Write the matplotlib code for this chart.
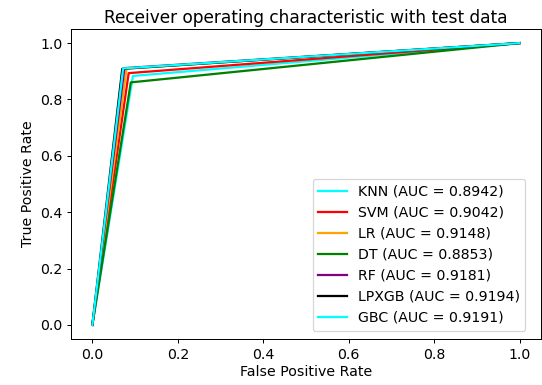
import matplotlib
matplotlib.use("Agg")
import matplotlib.pyplot as plt

# ROC points per classifier: (0,0) -> (fpr, tpr) -> (1,1)
models = ["KNN", "SVM", "LR", "DT", "RF", "LPXGB", "GBC"]
auc = [0.8942, 0.9042, 0.9148, 0.8853, 0.9181, 0.9194, 0.9191]
fpr_knee = [0.095, 0.085, 0.080, 0.090, 0.075, 0.070, 0.072]
tpr_knee = [0.8834, 0.8934, 0.9096, 0.8606, 0.9112, 0.9088, 0.9102]
colors = ["aqua", "red", "orange", "green", "purple", "black", "cyan"]

plt.rcParams["font.size"] = 11.3
plt.rcParams["axes.titlesize"] = 13.6


def main():
    fig = plt.figure(figsize=(542 / 90, 385 / 90), dpi=90)
    ax = fig.add_axes([71 / 542, 46 / 385, 470 / 542, 310 / 385])

    for name, a, fx, ty, c in zip(models, auc, fpr_knee, tpr_knee, colors):
        ax.plot([0, fx, 1], [0, ty, 1], color=c, lw=1.8,
                label="%s (AUC = %0.4f)" % (name, a))

    ax.set_xlabel("False Positive Rate", labelpad=3)
    ax.set_ylabel("True Positive Rate")
    ax.set_title("Receiver operating characteristic with test data", pad=5)
    ax.legend(loc="lower right", labelspacing=0.5, borderaxespad=0.6,
              bbox_to_anchor=(0.985, 0.0))

    fig.savefig("out.png", dpi=90)
    plt.close(fig)


main()
